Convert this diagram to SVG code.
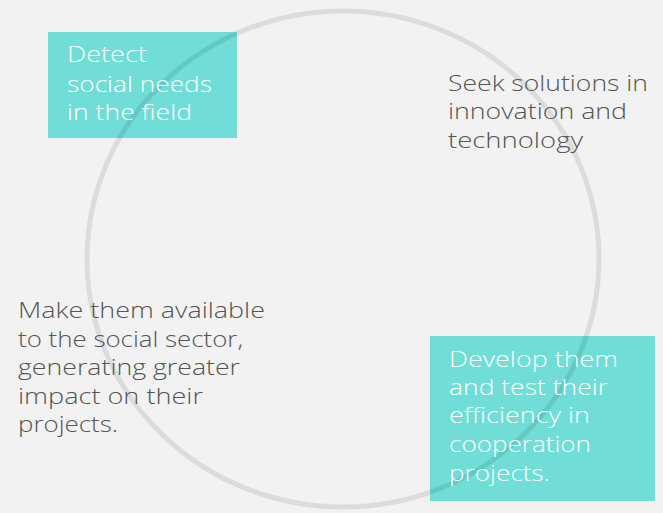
<svg xmlns="http://www.w3.org/2000/svg" width="663" height="513" viewBox="0 0 663 513">
<style>
.bg{fill:#f2f2f2}
.box{fill:#70ddd7}
.ring{fill:none;stroke:#000;stroke-opacity:0.09;stroke-width:5}
.t{font-family:"Open Sans","Liberation Sans",sans-serif;font-size:22.5px;font-weight:300}
.w{fill:#ffffff}
.d{fill:#555555}
</style>
<rect class="bg" x="0" y="0" width="663" height="513"/>
<g id="node-detect-box"><rect class="box" x="48" y="32" width="189" height="106"/></g>
<g id="node-develop-box"><rect class="box" x="430" y="336" width="225" height="165"/></g>
<g id="connectors"><ellipse class="ring" cx="343" cy="259" rx="256" ry="248"/></g>
<g id="node-detect" class="t w">
<text x="67" y="62" textLength="80" lengthAdjust="spacingAndGlyphs">Detect</text>
<text x="67" y="92" textLength="145" lengthAdjust="spacingAndGlyphs">social needs</text>
<text x="67" y="120" textLength="125" lengthAdjust="spacingAndGlyphs">in the field</text>
</g>
<g id="node-seek" class="t d">
<text x="448" y="90.5" textLength="200" lengthAdjust="spacingAndGlyphs">Seek solutions in</text>
<text x="448" y="119" textLength="179" lengthAdjust="spacingAndGlyphs">innovation and</text>
<text x="448" y="147.5" textLength="135" lengthAdjust="spacingAndGlyphs">technology</text>
</g>
<g id="node-develop" class="t w">
<text x="449" y="366.5" textLength="169" lengthAdjust="spacingAndGlyphs">Develop them</text>
<text x="449" y="394.5" textLength="159" lengthAdjust="spacingAndGlyphs">and test their</text>
<text x="449" y="423" textLength="141" lengthAdjust="spacingAndGlyphs">efficiency in</text>
<text x="449" y="452" textLength="142" lengthAdjust="spacingAndGlyphs">cooperation</text>
<text x="449" y="481" textLength="101" lengthAdjust="spacingAndGlyphs">projects.</text>
</g>
<g id="node-available" class="t d">
<text x="18" y="318" textLength="247" lengthAdjust="spacingAndGlyphs">Make them available</text>
<text x="18" y="346.5" textLength="225" lengthAdjust="spacingAndGlyphs">to the social sector,</text>
<text x="18" y="375" textLength="222" lengthAdjust="spacingAndGlyphs">generating greater</text>
<text x="18" y="403.5" textLength="185" lengthAdjust="spacingAndGlyphs">impact on their</text>
<text x="18" y="432" textLength="100" lengthAdjust="spacingAndGlyphs">projects.</text>
</g>
</svg>
